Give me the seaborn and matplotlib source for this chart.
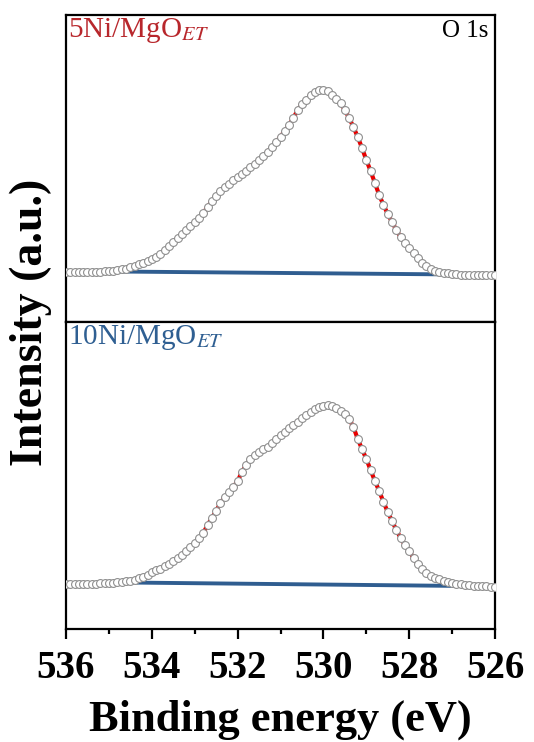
import matplotlib
matplotlib.use("Agg")
import matplotlib.pyplot as plt
import matplotlib.ticker as ticker
import numpy as np
import pandas as pd
import seaborn as sns

# binding energy grid, 0.1 eV step from 536 down to 526
energy = np.round(np.linspace(536.0, 526.0, 101), 1)

# O 1s intensity (a.u.)
int_5ni = [8, 8, 8, 8, 8, 8, 8.2, 8.4, 8.5, 8.8,
           9, 9.5, 10, 10.8, 11.5, 13, 14.5, 15.8, 17, 18.8,
           21, 23.5, 26, 30, 34, 38, 42, 46, 50, 54,
           58, 62, 67, 73, 79, 84, 89, 93, 96.5, 100,
           103, 106, 109.5, 113, 116.5, 120, 124, 128.5, 133, 138,
           143.5, 149, 155, 162, 170, 175.5, 180, 185, 188, 189.5,
           190, 188.5, 185, 181, 177, 170, 162, 153, 143, 132,
           120, 109, 97, 85, 75, 66, 58, 50, 43, 37.5,
           32, 27, 22, 17, 14, 11.5, 9.5, 8.5, 7.5, 7,
           6.3, 5.8, 5.3, 5.1, 5, 5, 5, 5, 5, 5, 5]

int_10ni = [6, 6, 6, 6, 6, 6.1, 6.2, 6.4, 6.7, 6.9,
            7.1, 7.3, 7.6, 8, 8.6, 9.3, 10.3, 11.5, 13, 15,
            17.5, 19.5, 21.5, 24, 26.5, 29, 32, 35.5, 39, 43,
            47, 52, 57, 65, 72, 79, 87, 93, 98, 103,
            109, 118, 125, 131, 135, 138, 141, 143, 147, 151,
            155, 158.5, 162, 165, 168.5, 172, 175, 178, 181, 183,
            184.5, 185, 184, 182, 179.5, 176, 171, 163, 151, 141,
            131, 120, 109, 99, 88, 78, 69, 60, 52, 45,
            39, 32, 26, 21, 17, 14, 12, 10.5, 9, 8,
            7, 6.3, 5.5, 5, 4.6, 4.3, 4, 3.8, 3.6, 3.4, 3.3]

# Shirley-type background end points
bg_energy_5ni = [534.8, 526.8]
bg_5ni = [8.5, 5.5]
bg_energy_10ni = [534.6, 526.7]
bg_10ni = [7.5, 4.0]

sns.set_theme(style="white")
plt.rcParams['font.family'] = ['Liberation Serif', 'DejaVu Serif']
plt.rcParams['mathtext.fontset'] = 'stix'
plt.rcParams['text.color'] = 'black'
plt.rcParams['xtick.color'] = 'black'
plt.rcParams['axes.labelcolor'] = 'black'

fig = plt.figure(figsize=(5.34, 7.42), dpi=100)
ax1 = fig.add_axes([0.1236, 0.5660, 0.8034, 0.4138])
ax2 = fig.add_axes([0.1236, 0.1523, 0.8034, 0.4137], sharex=ax1)

panels = [
    (ax1, int_5ni, bg_energy_5ni, bg_5ni, r'5Ni/MgO$_{ET}$', '#b8272c', (-42, 265)),
    (ax2, int_10ni, bg_energy_10ni, bg_10ni, r'10Ni/MgO$_{ET}$', '#2f5f92', (-39, 268)),
]

for ax, vals, bge, bgv, label, col, ylim in panels:
    df = pd.DataFrame({"E": energy, "I": vals})
    sns.lineplot(x=bge, y=bgv, ax=ax, color='#2f5d90', linewidth=2.8, zorder=1)
    sns.lineplot(data=df, x="E", y="I", ax=ax, color='#e80000', linewidth=3.0, zorder=2)
    sns.scatterplot(data=df, x="E", y="I", ax=ax, marker='o', s=32,
                    facecolor='white', edgecolor='#8f8f8f', linewidth=0.8, zorder=3)
    ax.set_ylim(*ylim)
    ax.set_yticks([])
    ax.set_ylabel("")
    ax.set_xlabel("")
    ax.text(0.004, 0.997, label, transform=ax.transAxes, ha='left', va='top',
            fontsize=21, color=col)
    for s in ax.spines.values():
        s.set_linewidth(1.6)
        s.set_color('black')

ax1.text(0.985, 0.985, 'O 1s', transform=ax1.transAxes, ha='right', va='top',
         fontsize=18, color='black')

ax1.set_xlim(536, 526)
ax1.tick_params(axis='x', which='both', bottom=False, labelbottom=False)
ax2.xaxis.set_major_locator(ticker.MultipleLocator(2))
ax2.xaxis.set_minor_locator(ticker.MultipleLocator(1))
ax2.tick_params(axis='x', which='major', bottom=True, direction='out', length=7,
                width=1.6, labelsize=28, pad=8)
ax2.tick_params(axis='x', which='minor', bottom=True, direction='out', length=3.5,
                width=1.6)
for lab in ax2.get_xticklabels():
    lab.set_fontweight('bold')
ax2.set_xlabel('Binding energy (eV)', fontsize=32, fontweight='bold', labelpad=9)

fig.text(0.058, 0.565, 'Intensity (a.u.)', rotation=90, ha='center', va='center',
         fontsize=33, fontweight='bold')

fig.savefig('out.png', dpi=100)
